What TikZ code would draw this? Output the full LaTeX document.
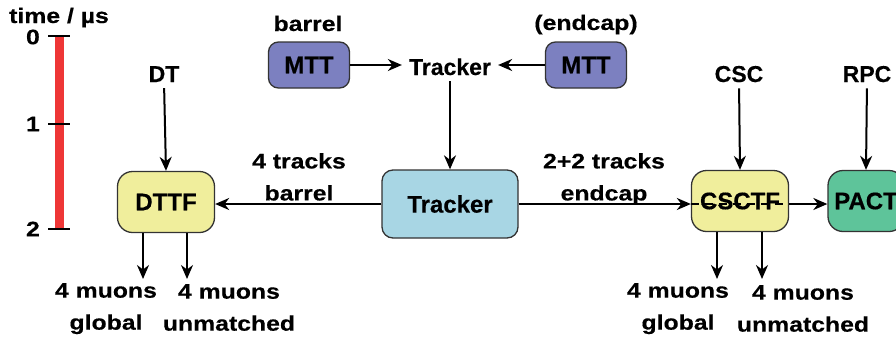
\documentclass[tikz,border=0pt]{standalone}
\usepackage{fontspec}
\setmainfont{Liberation Sans}[FakeBold=0.4]
\newfontfamily\widesans{Liberation Sans}[FakeStretch=1.18, FakeBold=0.4]
\usetikzlibrary{arrows.meta,calc}

\definecolor{ttfyellow}{HTML}{F0EE9C}
\definecolor{trkblue}{HTML}{A8D6E4}
\definecolor{mttviolet}{HTML}{7C80C0}
\definecolor{pactgreen}{HTML}{5EC49A}
\definecolor{timered}{HTML}{EE3636}

\tikzset{
  lbl/.style={font=\widesans\fontsize{21}{32}\selectfont\bfseries, align=center, inner sep=0pt},
  caplbl/.style={font=\fontsize{23}{28}\selectfont\bfseries, inner sep=0pt},
  boxbase/.style={draw=black!80, line width=1.3pt, font=\fontsize{24}{28}\selectfont\bfseries, inner sep=0pt},
  ttfbox/.style={boxbase, fill=ttfyellow, rounded corners=15pt, minimum width=97pt, minimum height=61pt},
  trkbox/.style={boxbase, fill=trkblue, rounded corners=11pt, minimum width=136pt, minimum height=68pt},
  mttbox/.style={boxbase, fill=mttviolet, rounded corners=10pt, minimum width=81pt, minimum height=46pt},
  pactbox/.style={boxbase, fill=pactgreen, rounded corners=15pt, minimum width=76pt, minimum height=61pt},
  arr/.style={line width=2pt, -{Stealth[length=14pt, width=12pt, inset=4.5pt]}},
  tick/.style={line width=2pt}
}

\begin{document}
\begin{tikzpicture}[x=1pt, y=-1pt]
  \useasboundingbox (0,0) rectangle (896,338);
  \begin{scope}
  \clip (0,0) rectangle (896,338);

  % time scale
  \node[lbl, anchor=base] (tlabel) at (59,23) {time / µs};
  \fill[timered] (54.5,36) rectangle (63.5,229);
  \draw[tick] (48,36) -- (70,36);
  \draw[tick] (48,124) -- (70,124);
  \draw[tick] (48,229) -- (70,229);
  \node[lbl, anchor=east] (t0) at (40,37) {0};
  \node[lbl, anchor=east] (t1) at (40,124) {1};
  \node[lbl, anchor=east] (t2) at (40,229) {2};

  % boxes
  \node[ttfbox] (dttf) at (166,202) {DTTF};
  \node[trkbox] (trk) at (450,204) {Tracker};
  \node[ttfbox] (csctf) at (740,201) {CSCTF};
  \node[pactbox] (pact) at (866,201) {PACT};
  \node[mttbox] (mttb) at (309,65) {MTT};
  \node[mttbox] (mtte) at (586,65) {MTT};

  % plain labels
  \node[lbl, anchor=base] (barrel) at (308,31) {barrel};
  \node[lbl, anchor=base] (endcap) at (586,30) {(endcap)};
  \node[caplbl, anchor=base] (trklbl) at (450,75) {Tracker};
  \node[caplbl, anchor=base] (dt) at (164,82) {DT};
  \node[caplbl, anchor=base] (csc) at (739,82) {CSC};
  \node[caplbl, anchor=base] (rpc) at (867,82) {RPC};
  \node[lbl, anchor=north] (tb) at (299,153) {4 tracks\\barrel};
  \node[lbl, anchor=north] (te) at (604,153) {2+2 tracks\\endcap};
  \node[lbl, anchor=north] (dglob) at (106,283) {4 muons\\global};
  \node[lbl, anchor=north] (dunm) at (229,284) {4 muons\\unmatched};
  \node[lbl, anchor=north] (cglob) at (678,283) {4 muons\\global};
  \node[lbl, anchor=north] (cunm) at (803,285) {4 muons\\unmatched};

  % connectors
  \draw[arr, shorten >=7pt] (mttb.east) -- (trklbl.west |- mttb.east);
  \draw[arr, shorten >=7pt] (mtte.west) -- (trklbl.east |- mtte.west);
  \draw[arr, shorten <=6pt] (trklbl.south) -- (trk.north);
  \draw[arr, shorten <=6pt] (dt.south) -- (dttf.north);
  \draw[arr, shorten <=6pt] (csc.south) -- (csctf.north);
  \draw[arr, shorten <=6pt] (rpc.south) -- (pact.north);
  \draw[arr] (trk.west) -- (trk.west -| dttf.east);
  \draw[arr] (trk.east) -- (trk.east -| csctf.west);
  \draw[line width=2pt, dash pattern=on 8pt off 6pt] (trk.east -| csctf.west) -- (trk.east -| csctf.east);
  \draw[arr] (trk.east -| csctf.east) -- (trk.east -| pact.west);

  % outputs of the track finders
  \coordinate (dg) at (143,279);
  \coordinate (du) at (187,279);
  \coordinate (cg) at (717,279);
  \coordinate (cu) at (762,279);
  \draw[arr] (dttf.south -| dg) -- (dg);
  \draw[arr] (dttf.south -| du) -- (du);
  \draw[arr] (csctf.south -| cg) -- (cg);
  \draw[arr] (csctf.south -| cu) -- (cu);
  \end{scope}
\end{tikzpicture}
\end{document}
